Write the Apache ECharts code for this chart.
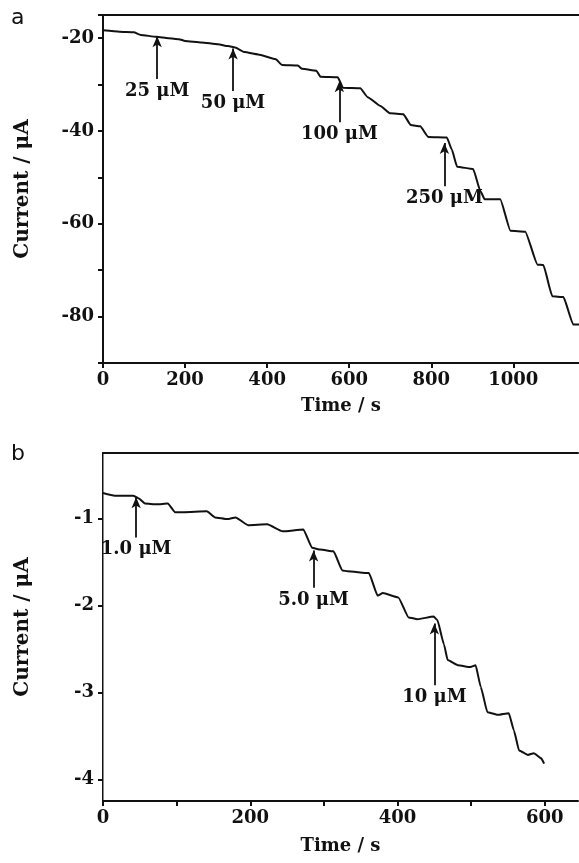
<!DOCTYPE html>
<html>
<head>
<meta charset="utf-8">
<script src="https://cdn.jsdelivr.net/npm/echarts@6/dist/echarts.min.js"></script>
<style>
  html, body { margin: 0; padding: 0; background: #fff; }
  #chart { width: 579px; height: 863px; }
</style>
</head>
<body>
<div id="chart"></div>
<script>
// panel a: current vs time (uA, s)
var timeA = [0, 40, 75, 92, 130, 160, 185, 200, 240, 280, 305, 322, 345, 378, 420, 437, 475, 485, 520, 530, 572, 585, 627, 645, 676, 700, 732, 750, 773, 793, 838, 850, 863, 902, 920, 930, 968, 993, 1029, 1059, 1073, 1095, 1122, 1146, 1160];
var currentA = [-18.3, -18.6, -18.7, -19.3, -19.7, -20.0, -20.2, -20.6, -20.9, -21.3, -21.7, -22.0, -23.0, -23.5, -24.5, -25.8, -25.9, -26.6, -27.0, -28.3, -28.4, -30.7, -30.8, -32.7, -34.6, -36.2, -36.4, -38.7, -39.0, -41.3, -41.4, -44.0, -47.7, -48.2, -53.0, -54.7, -54.7, -61.5, -61.7, -68.8, -68.9, -75.6, -75.8, -81.7, -81.7];

// panel b
var timeB = [0, 16, 41, 48, 57, 73, 88, 98, 109, 141, 152, 169, 180, 197, 223, 244, 272, 284, 295, 313, 325, 332, 361, 373, 380, 401, 415, 427, 449, 454, 463, 468, 482, 499, 506, 513, 522, 536, 551, 558, 565, 577, 585, 595, 599];
var currentB = [-0.71, -0.74, -0.74, -0.77, -0.83, -0.84, -0.83, -0.93, -0.93, -0.92, -0.99, -1.01, -0.99, -1.08, -1.07, -1.15, -1.13, -1.34, -1.36, -1.38, -1.60, -1.61, -1.63, -1.89, -1.86, -1.91, -2.14, -2.16, -2.13, -2.17, -2.45, -2.63, -2.69, -2.71, -2.69, -2.94, -3.23, -3.26, -3.24, -3.44, -3.67, -3.72, -3.70, -3.76, -3.82];

// additions marked with arrows
var arrowXA = [132, 317, 576, 832];
var arrowTipA = [-19.6, -22.2, -29.3, -42.6];
var arrowTailA = [-28.8, -31.4, -38.1, -51.9];
var arrowTextA = ['25 μM', '50 μM', '100 μM', '250 μM'];

var arrowXB = [45, 286, 450];
var arrowTipB = [-0.76, -1.37, -2.21];
var arrowTailB = [-1.22, -1.80, -2.92];
var arrowTextB = ['1.0 μM', '5.0 μM', '10 μM'];

var yTicksB = [-4, -3, -2, -1];

var serif = 'DejaVu Serif';
var black = '#111';

function pairs(xs, ys) {
    return xs.map(function (x, i) { return [x, ys[i]]; });
}

function arrows(xs, tips, tails, texts) {
    return xs.map(function (x, i) {
        return [
            { coord: [x, tails[i]], label: { formatter: texts[i] } },
            { coord: [x, tips[i]] }
        ];
    });
}

function curve(xi, data, xs, tips, tails, texts) {
    return {
        type: 'line',
        xAxisIndex: xi,
        yAxisIndex: xi,
        data: data,
        showSymbol: false,
        smooth: 0.15,
        smoothMonotone: 'x',
        lineStyle: { color: black, width: 2 },
        markLine: {
            silent: true,
            symbol: ['none', 'arrow'],
            symbolSize: [7, 11],
            lineStyle: { color: black, width: 1.8, type: 'solid' },
            label: {
                position: 'start',
                distance: 3,
                color: black,
                fontFamily: serif,
                fontWeight: 'bold',
                fontSize: 18
            },
            data: arrows(xs, tips, tails, texts)
        }
    };
}

var tickFont = { color: black, fontFamily: serif, fontWeight: 'bold', fontSize: 18 };
var axisLine = { show: true, lineStyle: { color: black, width: 2 } };

option = {
    animation: false,
    backgroundColor: '#fff',
    title: [
        { text: 'a', left: 6, top: 2, textStyle: { fontFamily: 'DejaVu Sans', fontWeight: 'normal', fontSize: 22, color: black } },
        { text: 'b', left: 6, top: 438, textStyle: { fontFamily: 'DejaVu Sans', fontWeight: 'normal', fontSize: 22, color: black } }
    ],
    grid: [
        { left: 103, top: 15, width: 476, height: 348 },
        { left: 103, top: 453, width: 475, height: 348 }
    ],
    xAxis: [
        {
            gridIndex: 0, type: 'value', min: 0, max: 1160, interval: 200,
            name: 'Time / s', nameLocation: 'middle', nameGap: 34,
            nameTextStyle: { color: black, fontFamily: serif, fontWeight: 'bold', fontSize: 18 },
            axisLine: axisLine,
            axisTick: { length: 5, lineStyle: { color: black, width: 2 } },
            axisLabel: Object.assign({
                margin: 8, showMaxLabel: false,
                formatter: function (v) { return String(v); }
            }, tickFont),
            splitLine: { show: false }
        },
        {
            gridIndex: 1, type: 'value', min: 0, max: 645, interval: 100,
            name: 'Time / s', nameLocation: 'middle', nameGap: 36,
            nameTextStyle: { color: black, fontFamily: serif, fontWeight: 'bold', fontSize: 18 },
            axisLine: axisLine,
            axisTick: { length: 5, lineStyle: { color: black, width: 2 } },
            axisLabel: Object.assign({
                margin: 8, showMaxLabel: false,
                formatter: function (v) { return v % 200 === 0 ? String(v) : ''; }
            }, tickFont),
            splitLine: { show: false }
        },
        {
            gridIndex: 0, type: 'value', position: 'top', min: 0, max: 1160,
            axisLine: axisLine, axisTick: { show: false }, axisLabel: { show: false }, splitLine: { show: false }
        },
        {
            gridIndex: 1, type: 'value', position: 'top', min: 0, max: 645,
            axisLine: axisLine, axisTick: { show: false }, axisLabel: { show: false }, splitLine: { show: false }
        }
    ],
    yAxis: [
        {
            gridIndex: 0, type: 'value', min: -90, max: -15, interval: 10,
            name: 'Current / μA', nameLocation: 'middle', nameGap: 70,
            nameTextStyle: { color: black, fontFamily: serif, fontWeight: 'bold', fontSize: 20 },
            axisLine: axisLine,
            axisTick: { length: 5, lineStyle: { color: black, width: 2 } },
            axisLabel: Object.assign({
                margin: 9,
                formatter: function (v) { return (v % 20 === 0 && v > -90 && v < -15) ? String(v) : ''; }
            }, tickFont),
            splitLine: { show: false }
        },
        {
            gridIndex: 1, type: 'value', min: -4.25, max: -0.25,
            name: 'Current / μA', nameLocation: 'middle', nameGap: 70,
            nameTextStyle: { color: black, fontFamily: serif, fontWeight: 'bold', fontSize: 20 },
            axisLine: axisLine,
            axisTick: { length: 5, customValues: yTicksB, lineStyle: { color: black, width: 2 } },
            axisLabel: Object.assign({ margin: 9, customValues: yTicksB }, tickFont),
            splitLine: { show: false }
        },
        {
            gridIndex: 1, type: 'value', position: 'right', min: -4.25, max: -0.25,
            axisLine: { show: true, lineStyle: { color: '#888', width: 1 } },
            axisTick: { show: false }, axisLabel: { show: false }, splitLine: { show: false }
        }
    ],
    series: [
        curve(0, pairs(timeA, currentA), arrowXA, arrowTipA, arrowTailA, arrowTextA),
        curve(1, pairs(timeB, currentB), arrowXB, arrowTipB, arrowTailB, arrowTextB)
    ]
};

var myChart = echarts.init(document.getElementById('chart'));
myChart.setOption(option);
</script>
</body>
</html>
